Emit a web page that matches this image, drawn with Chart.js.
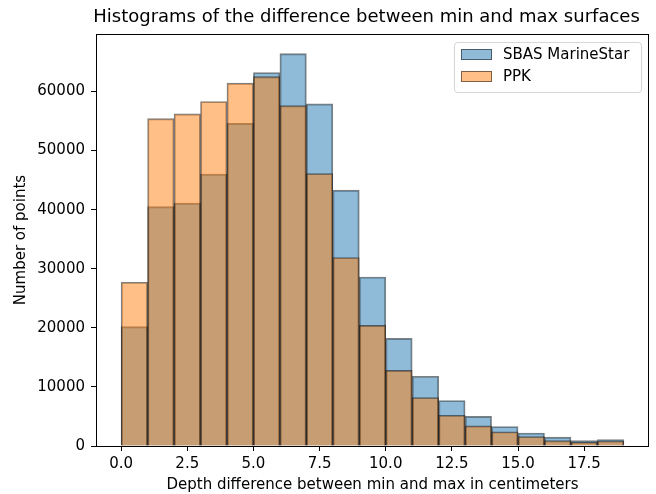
<!DOCTYPE html>
<html lang="en">
<head>
  <meta charset="UTF-8">
  <title>Histograms</title>
  <style>
    html, body { margin: 0; padding: 0; background: white; }
    #wrap { width: 656px; height: 494px; }
  </style>
  <script src="https://cdn.jsdelivr.net/npm/chart.js@4/dist/chart.umd.js"></script>
</head>
<body>
  <div id="wrap"><canvas id="hist" width="656" height="494"></canvas></div>
  <script>
    // bins of 1 cm, left edges
    const binLefts = [0, 1, 2, 3, 4, 5, 6, 7, 8, 9, 10, 11, 12, 13, 14, 15, 16, 17, 18];
    const binWidth = 1;
    const sbasCounts = [20200, 40500, 41100, 46000, 54600, 63200, 66400, 57900, 43300, 28600, 18200, 11800, 7700, 5000, 3300, 2200, 1500, 900, 1100];
    const ppkCounts = [27700, 55400, 56200, 58300, 61400, 62500, 57600, 46100, 31900, 20400, 12800, 8200, 5200, 3400, 2400, 1600, 900, 650, 850];
    const seriesNames = ['SBAS MarineStar', 'PPK'];
    const xTicks = [0, 2.5, 5, 7.5, 10, 12.5, 15, 17.5];
    const yTicks = [0, 10000, 20000, 30000, 40000, 50000, 60000];

    const titleText = 'Histograms of the difference between min and max surfaces';
    const blue = 'rgba(31,119,180,0.5)', orange = 'rgba(255,127,14,0.5)', edge = 'rgba(0,0,0,0.5)';
    const font = 'DejaVu Sans';

    const lastEdge = binLefts[binLefts.length - 1] + binWidth;
    const xPad = (lastEdge - binLefts[0]) * 0.05;
    const yMax = Math.max(...sbasCounts, ...ppkCounts) * 1.05;

    const pts = arr => arr.map((v, i) => ({x: binLefts[i] + binWidth / 2, y: v}));

    const frameAndExtras = {
      id: 'frameAndExtras',
      afterDraw(chart) {
        const {ctx, chartArea: a} = chart;
        ctx.save();
        ctx.strokeStyle = '#000'; ctx.lineWidth = 1;
        ctx.strokeRect(Math.round(a.left) + 0.5, Math.round(a.top) + 0.5, Math.round(a.right - a.left) - 1, Math.round(a.bottom - a.top));
        // title centred on the axes
        ctx.fillStyle = '#000';
        ctx.font = '18px "' + font + '"';
        ctx.textAlign = 'center'; ctx.textBaseline = 'middle';
        ctx.fillText(titleText, (a.left + a.right) / 2 - 6, 17);
        // legend in upper right
        const bx = 454, by = 42, bw = 187, bh = 50;
        ctx.fillStyle = 'rgba(255,255,255,0.8)';
        ctx.strokeStyle = 'rgba(204,204,204,0.8)';
        ctx.beginPath(); ctx.roundRect(bx + 0.5, by + 0.5, bw, bh, 3); ctx.fill(); ctx.stroke();
        ctx.font = '15px "' + font + '"';
        ctx.textAlign = 'left';
        [blue, orange].forEach((c, i) => {
          const y = by + 7 + i * 22;
          ctx.fillStyle = c; ctx.fillRect(bx + 7, y, 31, 11);
          ctx.strokeStyle = edge; ctx.strokeRect(bx + 7.5, y + 0.5, 30, 10);
          ctx.fillStyle = '#000';
          ctx.fillText(seriesNames[i], bx + 49, y + 6);
        });
        ctx.restore();
      }
    };

    Chart.defaults.font.family = font;
    Chart.defaults.color = '#000';

    new Chart(document.getElementById('hist'), {
      type: 'bar',
      data: {
        datasets: [
          {label: seriesNames[0], data: pts(sbasCounts), backgroundColor: blue, borderColor: edge, borderWidth: 1.2, order: 1},
          {label: seriesNames[1], data: pts(ppkCounts), backgroundColor: orange, borderColor: edge, borderWidth: 1.2, order: 0}
        ]
      },
      options: {
        responsive: false,
        animation: false,
        layout: {padding: {left: 0, right: 7, top: 34, bottom: 0}},
        datasets: {bar: {grouped: false, barPercentage: 1, categoryPercentage: 1}},
        plugins: {legend: {display: false}, tooltip: {enabled: false}},
        scales: {
          x: {
            type: 'linear',
            offset: false,
            min: binLefts[0] - xPad,
            max: lastEdge + xPad,
            afterBuildTicks: s => { s.ticks = xTicks.map(v => ({value: v})); },
            afterFit: s => { s.height = 48; },
            ticks: {font: {size: 15}, padding: 4, maxRotation: 0, callback: v => v.toFixed(1)},
            grid: {offset: false, drawOnChartArea: false, drawTicks: true, tickLength: 5, tickColor: '#000'},
            border: {display: false},
            title: {display: true, text: 'Depth difference between min and max in centimeters', font: {size: 15}, padding: {top: 0, bottom: 0}}
          },
          y: {
            min: 0,
            max: yMax,
            afterBuildTicks: s => { s.ticks = yTicks.map(v => ({value: v})); },
            afterFit: s => { s.width = 96; },
            ticks: {font: {size: 15}, padding: 6, callback: v => String(v)},
            grid: {drawOnChartArea: false, drawTicks: true, tickLength: 5, tickColor: '#000'},
            border: {display: false},
            title: {display: true, text: 'Number of points', font: {size: 15}, padding: {top: 12, bottom: 0}}
          }
        }
      },
      plugins: [frameAndExtras]
    });
  </script>
</body>
</html>
